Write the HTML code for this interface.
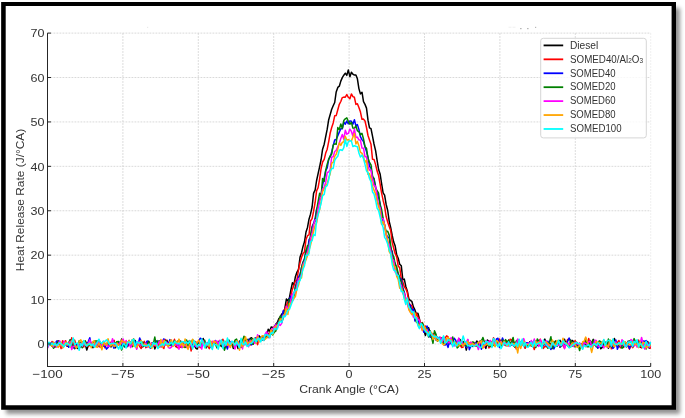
<!DOCTYPE html>
<html><head><meta charset="utf-8"><style>
html,body{margin:0;padding:0;background:#fff;width:685px;height:418px;overflow:hidden}
#w{width:685px;height:418px;filter:blur(0.25px)}
svg{display:block}
text{font-family:"Liberation Sans",sans-serif}
</style></head><body><div id="w">
<svg width="685" height="418" viewBox="0 0 685 418">
<defs><filter id="sh" x="-5%" y="-5%" width="115%" height="115%"><feGaussianBlur stdDeviation="2"/></filter>
<clipPath id="cp"><rect x="47.5" y="23.1" width="603.70" height="343.10"/></clipPath></defs>
<rect x="0" y="0" width="685" height="418" fill="#fff"/>
<rect x="6" y="8" width="674" height="406" fill="#000" opacity="0.43" filter="url(#sh)"/>
<rect x="3" y="4" width="670" height="403" fill="#fff"/>
<path d="M1.15,1.9 H676 V409.7 H1.15 Z M5.7,6 V405.3 H671.6 V6 Z" fill="#000" fill-rule="evenodd"/>
<g stroke="#cfcfcf" stroke-width="0.8" stroke-dasharray="1.8 1.2"><line x1="47.50" y1="343.99" x2="650.70" y2="343.99"/><line x1="47.50" y1="299.58" x2="650.70" y2="299.58"/><line x1="47.50" y1="255.17" x2="650.70" y2="255.17"/><line x1="47.50" y1="210.75" x2="650.70" y2="210.75"/><line x1="47.50" y1="166.34" x2="650.70" y2="166.34"/><line x1="47.50" y1="121.93" x2="650.70" y2="121.93"/><line x1="47.50" y1="77.51" x2="650.70" y2="77.51"/><line x1="47.50" y1="33.10" x2="650.70" y2="33.10"/><line x1="47.50" y1="33.10" x2="47.50" y2="366.20"/><line x1="122.90" y1="33.10" x2="122.90" y2="366.20"/><line x1="198.30" y1="33.10" x2="198.30" y2="366.20"/><line x1="273.70" y1="33.10" x2="273.70" y2="366.20"/><line x1="349.10" y1="33.10" x2="349.10" y2="366.20"/><line x1="424.50" y1="33.10" x2="424.50" y2="366.20"/><line x1="499.90" y1="33.10" x2="499.90" y2="366.20"/><line x1="575.30" y1="33.10" x2="575.30" y2="366.20"/><line x1="650.70" y1="33.10" x2="650.70" y2="366.20" opacity="0.45"/></g>
<g fill="#b8b8b8"><rect x="520" y="28" width="1.6" height="1.2"/><rect x="527" y="28" width="1.6" height="1.2"/><rect x="535" y="26.8" width="1.2" height="1.2"/><rect x="508.5" y="26.8" width="3" height="0.8" opacity="0.25"/><rect x="512.5" y="26.8" width="3" height="0.8" opacity="0.25"/><rect x="147" y="26.8" width="1.2" height="1.2" opacity="0.3"/></g>
<g clip-path="url(#cp)" fill="none" stroke-width="1.5" stroke-linejoin="round"><path d="M47.5,344.0 L49.0,343.3 L50.5,344.7 L52.0,346.2 L53.5,345.1 L55.1,346.4 L56.6,343.8 L58.1,340.7 L59.6,345.2 L61.1,345.5 L62.6,342.8 L64.1,343.1 L65.6,343.7 L67.2,346.3 L68.7,344.1 L70.2,342.3 L71.7,347.3 L73.2,345.1 L74.7,348.6 L76.2,347.1 L77.7,348.5 L79.2,344.6 L80.8,347.1 L82.3,343.3 L83.8,343.6 L85.3,344.4 L86.8,350.1 L88.3,345.3 L89.8,344.1 L91.3,343.7 L92.9,347.7 L94.4,345.2 L95.9,346.4 L97.4,346.0 L98.9,341.4 L100.4,346.0 L101.9,344.1 L103.4,341.8 L104.9,345.4 L106.5,344.3 L108.0,343.7 L109.5,343.8 L111.0,347.0 L112.5,343.8 L114.0,340.7 L115.5,347.8 L117.0,341.9 L118.6,343.7 L120.1,345.6 L121.6,339.1 L123.1,342.1 L124.6,346.9 L126.1,343.8 L127.6,342.6 L129.1,344.5 L130.6,342.3 L132.2,344.2 L133.7,342.4 L135.2,340.5 L136.7,345.6 L138.2,343.5 L139.7,345.1 L141.2,343.7 L142.7,346.9 L144.3,345.4 L145.8,344.5 L147.3,341.8 L148.8,341.2 L150.3,347.2 L151.8,345.9 L153.3,342.4 L154.8,348.9 L156.3,345.1 L157.9,344.2 L159.4,340.9 L160.9,342.3 L162.4,344.8 L163.9,344.9 L165.4,344.6 L166.9,340.3 L168.4,345.0 L170.0,344.7 L171.5,343.1 L173.0,344.3 L174.5,344.5 L176.0,346.7 L177.5,344.0 L179.0,345.1 L180.5,341.1 L182.0,342.4 L183.6,344.1 L185.1,342.4 L186.6,344.8 L188.1,341.4 L189.6,344.0 L191.1,342.6 L192.6,347.1 L194.1,343.1 L195.7,348.1 L197.2,349.0 L198.7,344.7 L200.2,346.2 L201.7,343.6 L203.2,338.5 L204.7,346.0 L206.2,345.5 L207.7,343.5 L209.3,342.8 L210.8,344.4 L212.3,344.5 L213.8,342.2 L215.3,342.7 L216.8,346.5 L218.3,344.1 L219.8,343.8 L221.4,346.5 L222.9,343.2 L224.4,345.9 L225.9,341.4 L227.4,343.3 L228.9,343.5 L230.4,345.1 L231.9,343.9 L233.4,348.4 L235.0,346.2 L236.5,342.5 L238.0,348.5 L239.5,341.1 L241.0,347.3 L242.5,341.0 L244.0,344.7 L245.5,340.5 L247.1,341.9 L248.6,345.6 L250.1,338.5 L251.6,337.7 L253.1,340.9 L254.6,340.9 L256.1,340.1 L257.6,341.5 L259.1,335.8 L260.7,339.0 L262.2,336.9 L263.7,337.8 L265.2,336.3 L266.7,336.7 L268.2,329.2 L269.7,331.2 L271.2,326.9 L272.8,327.5 L274.3,327.3 L275.8,324.3 L277.3,322.6 L278.8,318.8 L280.3,317.0 L281.8,313.9 L283.3,313.5 L284.8,308.7 L286.4,299.1 L287.9,300.9 L289.4,297.8 L290.9,290.0 L292.4,282.8 L293.9,284.9 L295.4,276.7 L296.9,272.3 L298.5,269.4 L300.0,257.3 L301.5,253.0 L303.0,246.4 L304.5,241.8 L306.0,232.0 L307.5,227.4 L309.0,219.2 L310.5,214.2 L312.1,207.0 L313.6,193.2 L315.1,190.1 L316.6,180.5 L318.1,173.6 L319.6,166.9 L321.1,159.5 L322.6,149.2 L324.2,144.2 L325.7,136.6 L327.2,129.2 L328.7,119.7 L330.2,114.5 L331.7,109.2 L333.2,105.8 L334.7,102.5 L336.2,91.9 L337.8,87.4 L339.3,86.2 L340.8,81.1 L342.3,77.6 L343.8,75.2 L345.3,73.2 L346.8,75.4 L348.3,70.0 L349.9,76.7 L351.4,72.2 L352.9,74.2 L354.4,75.1 L355.9,74.9 L357.4,78.8 L358.9,88.6 L360.4,93.9 L362.0,92.2 L363.5,101.6 L365.0,104.4 L366.5,108.1 L368.0,120.2 L369.5,127.8 L371.0,128.7 L372.5,136.1 L374.0,144.0 L375.6,150.7 L377.1,160.4 L378.6,169.5 L380.1,173.9 L381.6,183.5 L383.1,192.9 L384.6,195.2 L386.1,204.2 L387.7,210.5 L389.2,221.3 L390.7,227.7 L392.2,235.5 L393.7,242.1 L395.2,246.1 L396.7,254.9 L398.2,258.3 L399.7,264.2 L401.3,265.8 L402.8,279.6 L404.3,279.1 L405.8,286.4 L407.3,290.9 L408.8,298.7 L410.3,300.4 L411.8,301.3 L413.4,306.9 L414.9,309.9 L416.4,313.9 L417.9,313.3 L419.4,318.8 L420.9,326.6 L422.4,325.2 L423.9,330.4 L425.4,335.5 L427.0,330.6 L428.5,327.6 L430.0,332.2 L431.5,336.5 L433.0,337.1 L434.5,333.1 L436.0,336.4 L437.5,337.5 L439.1,338.6 L440.6,339.0 L442.1,337.8 L443.6,338.9 L445.1,340.2 L446.6,343.7 L448.1,340.3 L449.6,343.6 L451.1,339.5 L452.7,345.5 L454.2,343.0 L455.7,342.9 L457.2,346.2 L458.7,338.9 L460.2,339.7 L461.7,344.5 L463.2,341.6 L464.8,342.6 L466.3,350.0 L467.8,343.1 L469.3,343.9 L470.8,343.6 L472.3,346.4 L473.8,344.5 L475.3,344.3 L476.8,341.0 L478.4,343.1 L479.9,343.9 L481.4,340.2 L482.9,345.3 L484.4,344.9 L485.9,348.4 L487.4,340.1 L488.9,341.6 L490.5,341.7 L492.0,342.3 L493.5,343.7 L495.0,343.5 L496.5,344.6 L498.0,344.5 L499.5,343.9 L501.0,340.3 L502.5,342.6 L504.1,344.1 L505.6,345.4 L507.1,345.5 L508.6,340.1 L510.1,342.8 L511.6,343.8 L513.1,344.8 L514.6,346.7 L516.2,344.2 L517.7,341.9 L519.2,345.0 L520.7,344.5 L522.2,344.5 L523.7,343.7 L525.2,347.9 L526.7,344.6 L528.2,346.1 L529.8,341.8 L531.3,345.9 L532.8,342.6 L534.3,340.3 L535.8,344.8 L537.3,345.5 L538.8,343.5 L540.3,344.0 L541.9,346.4 L543.4,342.9 L544.9,339.1 L546.4,344.6 L547.9,344.5 L549.4,346.5 L550.9,343.2 L552.4,347.0 L553.9,346.7 L555.5,340.9 L557.0,346.2 L558.5,341.4 L560.0,340.3 L561.5,343.4 L563.0,342.6 L564.5,339.2 L566.0,344.5 L567.6,345.4 L569.1,347.3 L570.6,343.9 L572.1,340.4 L573.6,341.6 L575.1,346.3 L576.6,346.1 L578.1,345.2 L579.6,343.3 L581.2,344.5 L582.7,343.5 L584.2,343.3 L585.7,344.7 L587.2,344.1 L588.7,343.5 L590.2,344.2 L591.7,342.8 L593.3,339.4 L594.8,342.5 L596.3,343.9 L597.8,348.1 L599.3,343.0 L600.8,348.7 L602.3,347.4 L603.8,341.9 L605.3,342.3 L606.9,344.4 L608.4,348.2 L609.9,344.9 L611.4,345.7 L612.9,342.4 L614.4,338.5 L615.9,343.5 L617.4,345.9 L619.0,346.9 L620.5,344.1 L622.0,344.4 L623.5,346.8 L625.0,343.7 L626.5,346.8 L628.0,341.3 L629.5,341.4 L631.0,341.3 L632.6,345.2 L634.1,342.7 L635.6,344.3 L637.1,344.9 L638.6,344.8 L640.1,347.2 L641.6,347.5 L643.1,342.1 L644.7,344.5 L646.2,343.5 L647.7,341.5 L649.2,348.2 L650.7,345.9" stroke="#000000"/><path d="M47.5,343.6 L49.0,343.0 L50.5,344.9 L52.0,341.5 L53.5,343.5 L55.1,347.0 L56.6,346.3 L58.1,342.0 L59.6,342.9 L61.1,348.6 L62.6,340.7 L64.1,342.5 L65.6,340.7 L67.2,344.9 L68.7,344.7 L70.2,346.7 L71.7,337.8 L73.2,344.4 L74.7,340.1 L76.2,345.6 L77.7,343.6 L79.2,348.1 L80.8,344.9 L82.3,341.6 L83.8,347.1 L85.3,341.4 L86.8,343.2 L88.3,346.5 L89.8,345.2 L91.3,345.1 L92.9,344.1 L94.4,345.3 L95.9,346.0 L97.4,344.7 L98.9,346.5 L100.4,347.1 L101.9,344.1 L103.4,341.8 L104.9,347.7 L106.5,344.0 L108.0,345.6 L109.5,346.4 L111.0,341.9 L112.5,345.3 L114.0,340.3 L115.5,345.9 L117.0,343.0 L118.6,344.5 L120.1,345.8 L121.6,342.6 L123.1,344.4 L124.6,342.5 L126.1,344.1 L127.6,346.6 L129.1,344.2 L130.6,343.9 L132.2,341.7 L133.7,346.2 L135.2,344.1 L136.7,348.2 L138.2,342.4 L139.7,346.6 L141.2,348.4 L142.7,344.1 L144.3,341.3 L145.8,347.7 L147.3,346.7 L148.8,345.8 L150.3,346.8 L151.8,343.1 L153.3,346.0 L154.8,345.8 L156.3,342.6 L157.9,345.8 L159.4,342.9 L160.9,346.4 L162.4,347.0 L163.9,348.5 L165.4,339.4 L166.9,344.8 L168.4,343.4 L170.0,344.1 L171.5,343.6 L173.0,343.9 L174.5,339.3 L176.0,346.5 L177.5,347.8 L179.0,346.5 L180.5,347.3 L182.0,342.2 L183.6,342.0 L185.1,346.3 L186.6,347.4 L188.1,344.9 L189.6,340.6 L191.1,350.9 L192.6,342.7 L194.1,346.6 L195.7,341.4 L197.2,346.6 L198.7,344.7 L200.2,347.7 L201.7,346.4 L203.2,340.6 L204.7,342.0 L206.2,345.0 L207.7,346.1 L209.3,348.6 L210.8,344.9 L212.3,344.0 L213.8,344.2 L215.3,344.2 L216.8,346.7 L218.3,344.1 L219.8,344.0 L221.4,340.7 L222.9,339.3 L224.4,344.2 L225.9,345.7 L227.4,343.9 L228.9,345.2 L230.4,345.5 L231.9,343.8 L233.4,346.1 L235.0,342.0 L236.5,343.7 L238.0,342.7 L239.5,343.7 L241.0,344.9 L242.5,345.2 L244.0,343.3 L245.5,343.9 L247.1,341.7 L248.6,342.1 L250.1,345.1 L251.6,341.2 L253.1,344.3 L254.6,342.1 L256.1,340.8 L257.6,344.6 L259.1,338.6 L260.7,337.8 L262.2,337.8 L263.7,337.5 L265.2,336.4 L266.7,336.8 L268.2,333.9 L269.7,333.2 L271.2,330.2 L272.8,331.8 L274.3,326.5 L275.8,324.8 L277.3,323.4 L278.8,321.8 L280.3,316.9 L281.8,319.7 L283.3,311.6 L284.8,309.1 L286.4,305.6 L287.9,301.8 L289.4,300.6 L290.9,295.6 L292.4,289.2 L293.9,285.2 L295.4,281.0 L296.9,280.2 L298.5,269.9 L300.0,262.9 L301.5,257.6 L303.0,253.6 L304.5,251.9 L306.0,239.5 L307.5,235.7 L309.0,234.8 L310.5,221.0 L312.1,218.6 L313.6,211.2 L315.1,202.5 L316.6,190.8 L318.1,187.7 L319.6,179.1 L321.1,168.5 L322.6,162.0 L324.2,159.4 L325.7,153.1 L327.2,149.2 L328.7,141.6 L330.2,133.0 L331.7,127.5 L333.2,122.9 L334.7,115.8 L336.2,115.6 L337.8,109.8 L339.3,104.3 L340.8,101.5 L342.3,97.6 L343.8,97.1 L345.3,97.2 L346.8,94.5 L348.3,97.3 L349.9,98.8 L351.4,93.9 L352.9,96.6 L354.4,97.3 L355.9,104.4 L357.4,103.8 L358.9,107.5 L360.4,111.8 L362.0,119.3 L363.5,119.1 L365.0,121.0 L366.5,127.5 L368.0,135.5 L369.5,140.0 L371.0,144.3 L372.5,159.3 L374.0,159.4 L375.6,164.6 L377.1,171.1 L378.6,175.6 L380.1,184.1 L381.6,193.1 L383.1,200.2 L384.6,206.1 L386.1,216.3 L387.7,222.0 L389.2,226.4 L390.7,230.5 L392.2,242.2 L393.7,248.2 L395.2,253.7 L396.7,256.8 L398.2,265.9 L399.7,267.7 L401.3,278.8 L402.8,281.9 L404.3,286.7 L405.8,288.8 L407.3,292.4 L408.8,302.7 L410.3,305.0 L411.8,305.5 L413.4,311.3 L414.9,316.5 L416.4,313.1 L417.9,317.1 L419.4,319.5 L420.9,324.2 L422.4,322.6 L423.9,327.6 L425.4,326.1 L427.0,332.6 L428.5,334.0 L430.0,332.7 L431.5,336.1 L433.0,333.9 L434.5,335.9 L436.0,339.6 L437.5,338.0 L439.1,339.7 L440.6,337.3 L442.1,341.6 L443.6,341.6 L445.1,338.0 L446.6,335.9 L448.1,336.9 L449.6,341.9 L451.1,341.8 L452.7,338.8 L454.2,343.1 L455.7,345.3 L457.2,342.8 L458.7,342.1 L460.2,345.4 L461.7,347.5 L463.2,347.0 L464.8,342.0 L466.3,345.5 L467.8,344.1 L469.3,343.2 L470.8,342.3 L472.3,344.6 L473.8,342.6 L475.3,346.0 L476.8,344.8 L478.4,346.4 L479.9,341.2 L481.4,344.0 L482.9,345.8 L484.4,344.8 L485.9,344.5 L487.4,342.3 L488.9,347.9 L490.5,346.5 L492.0,344.9 L493.5,337.8 L495.0,341.6 L496.5,344.3 L498.0,342.2 L499.5,339.0 L501.0,344.6 L502.5,344.9 L504.1,341.0 L505.6,342.8 L507.1,342.4 L508.6,345.2 L510.1,339.3 L511.6,339.8 L513.1,342.6 L514.6,342.3 L516.2,348.9 L517.7,342.4 L519.2,344.5 L520.7,342.9 L522.2,342.3 L523.7,344.8 L525.2,348.1 L526.7,343.1 L528.2,345.8 L529.8,344.8 L531.3,345.5 L532.8,344.8 L534.3,349.6 L535.8,341.0 L537.3,343.4 L538.8,341.3 L540.3,339.2 L541.9,343.9 L543.4,348.4 L544.9,346.2 L546.4,346.9 L547.9,345.2 L549.4,343.8 L550.9,348.9 L552.4,343.2 L553.9,347.7 L555.5,343.3 L557.0,344.3 L558.5,344.8 L560.0,344.2 L561.5,345.3 L563.0,345.5 L564.5,348.1 L566.0,344.1 L567.6,339.5 L569.1,339.2 L570.6,340.8 L572.1,342.3 L573.6,345.6 L575.1,340.5 L576.6,344.1 L578.1,344.2 L579.6,344.7 L581.2,343.8 L582.7,345.1 L584.2,344.2 L585.7,346.6 L587.2,344.9 L588.7,338.4 L590.2,344.2 L591.7,344.6 L593.3,342.7 L594.8,342.3 L596.3,346.7 L597.8,344.5 L599.3,341.8 L600.8,343.3 L602.3,343.7 L603.8,340.2 L605.3,345.6 L606.9,343.8 L608.4,345.3 L609.9,340.4 L611.4,348.8 L612.9,345.6 L614.4,345.3 L615.9,342.4 L617.4,342.5 L619.0,340.6 L620.5,347.8 L622.0,342.2 L623.5,344.7 L625.0,345.6 L626.5,342.7 L628.0,346.2 L629.5,349.1 L631.0,344.9 L632.6,347.7 L634.1,345.6 L635.6,343.1 L637.1,343.2 L638.6,340.1 L640.1,344.5 L641.6,347.7 L643.1,345.8 L644.7,346.2 L646.2,347.0 L647.7,342.9 L649.2,345.6 L650.7,348.8" stroke="#ff0000"/><path d="M47.5,342.3 L49.0,344.3 L50.5,343.1 L52.0,343.7 L53.5,342.5 L55.1,343.9 L56.6,341.0 L58.1,343.0 L59.6,343.0 L61.1,343.0 L62.6,347.6 L64.1,344.4 L65.6,344.6 L67.2,343.5 L68.7,347.3 L70.2,340.0 L71.7,343.7 L73.2,347.0 L74.7,348.2 L76.2,344.7 L77.7,344.2 L79.2,345.7 L80.8,343.8 L82.3,345.6 L83.8,342.6 L85.3,345.8 L86.8,344.1 L88.3,341.6 L89.8,337.7 L91.3,346.5 L92.9,345.1 L94.4,346.0 L95.9,342.1 L97.4,346.8 L98.9,345.2 L100.4,344.1 L101.9,346.4 L103.4,346.3 L104.9,345.2 L106.5,349.1 L108.0,347.5 L109.5,345.0 L111.0,343.6 L112.5,344.4 L114.0,348.3 L115.5,345.1 L117.0,342.0 L118.6,342.6 L120.1,344.2 L121.6,346.2 L123.1,342.5 L124.6,345.4 L126.1,346.8 L127.6,346.0 L129.1,340.5 L130.6,343.5 L132.2,341.2 L133.7,345.2 L135.2,341.7 L136.7,345.5 L138.2,344.4 L139.7,337.9 L141.2,342.1 L142.7,345.2 L144.3,344.2 L145.8,343.2 L147.3,341.0 L148.8,345.2 L150.3,348.2 L151.8,344.7 L153.3,344.0 L154.8,343.7 L156.3,340.8 L157.9,343.2 L159.4,342.0 L160.9,346.7 L162.4,341.9 L163.9,338.9 L165.4,342.1 L166.9,343.4 L168.4,343.6 L170.0,339.6 L171.5,346.3 L173.0,344.3 L174.5,342.9 L176.0,342.2 L177.5,345.1 L179.0,343.2 L180.5,344.7 L182.0,343.7 L183.6,344.3 L185.1,346.8 L186.6,344.0 L188.1,341.8 L189.6,346.4 L191.1,344.6 L192.6,342.4 L194.1,346.6 L195.7,343.5 L197.2,346.6 L198.7,341.2 L200.2,338.3 L201.7,339.0 L203.2,344.5 L204.7,342.2 L206.2,343.7 L207.7,343.7 L209.3,340.2 L210.8,347.2 L212.3,341.4 L213.8,344.1 L215.3,340.5 L216.8,343.5 L218.3,345.6 L219.8,343.2 L221.4,342.1 L222.9,343.8 L224.4,342.7 L225.9,345.1 L227.4,349.0 L228.9,341.6 L230.4,342.0 L231.9,343.3 L233.4,343.5 L235.0,341.0 L236.5,344.6 L238.0,345.1 L239.5,343.8 L241.0,340.3 L242.5,346.4 L244.0,340.0 L245.5,344.3 L247.1,345.2 L248.6,339.2 L250.1,342.2 L251.6,344.9 L253.1,342.2 L254.6,338.7 L256.1,337.6 L257.6,341.0 L259.1,338.4 L260.7,337.0 L262.2,339.7 L263.7,336.4 L265.2,336.5 L266.7,336.8 L268.2,335.6 L269.7,333.0 L271.2,331.8 L272.8,331.8 L274.3,329.9 L275.8,324.4 L277.3,324.8 L278.8,321.1 L280.3,318.1 L281.8,317.2 L283.3,310.6 L284.8,315.4 L286.4,308.4 L287.9,308.0 L289.4,299.3 L290.9,296.1 L292.4,301.3 L293.9,294.8 L295.4,286.6 L296.9,281.8 L298.5,277.3 L300.0,274.4 L301.5,268.0 L303.0,262.3 L304.5,258.6 L306.0,250.3 L307.5,252.6 L309.0,239.6 L310.5,237.6 L312.1,226.6 L313.6,223.3 L315.1,218.6 L316.6,209.2 L318.1,206.0 L319.6,199.7 L321.1,195.1 L322.6,185.2 L324.2,177.9 L325.7,170.7 L327.2,167.8 L328.7,159.4 L330.2,156.7 L331.7,151.9 L333.2,145.6 L334.7,140.0 L336.2,139.5 L337.8,135.6 L339.3,132.1 L340.8,128.7 L342.3,128.8 L343.8,122.1 L345.3,124.2 L346.8,121.1 L348.3,123.8 L349.9,120.9 L351.4,121.3 L352.9,124.2 L354.4,119.7 L355.9,125.7 L357.4,124.6 L358.9,129.4 L360.4,136.6 L362.0,139.6 L363.5,141.6 L365.0,146.9 L366.5,151.6 L368.0,157.4 L369.5,166.4 L371.0,168.0 L372.5,178.6 L374.0,178.2 L375.6,186.9 L377.1,193.0 L378.6,198.1 L380.1,203.1 L381.6,213.6 L383.1,220.7 L384.6,225.3 L386.1,233.9 L387.7,237.4 L389.2,237.2 L390.7,249.6 L392.2,251.2 L393.7,261.8 L395.2,263.2 L396.7,269.9 L398.2,274.4 L399.7,277.7 L401.3,279.5 L402.8,287.7 L404.3,292.2 L405.8,298.9 L407.3,298.9 L408.8,304.5 L410.3,305.2 L411.8,310.5 L413.4,309.1 L414.9,321.0 L416.4,319.4 L417.9,318.9 L419.4,324.1 L420.9,327.2 L422.4,327.8 L423.9,332.3 L425.4,330.2 L427.0,325.9 L428.5,330.4 L430.0,337.1 L431.5,337.6 L433.0,337.4 L434.5,334.8 L436.0,340.1 L437.5,340.5 L439.1,337.3 L440.6,337.9 L442.1,341.4 L443.6,343.7 L445.1,345.1 L446.6,343.4 L448.1,347.4 L449.6,340.4 L451.1,344.0 L452.7,341.5 L454.2,338.3 L455.7,340.2 L457.2,346.0 L458.7,341.2 L460.2,340.6 L461.7,345.3 L463.2,345.9 L464.8,343.9 L466.3,347.6 L467.8,340.1 L469.3,349.7 L470.8,346.5 L472.3,344.5 L473.8,344.4 L475.3,343.5 L476.8,343.2 L478.4,344.4 L479.9,341.2 L481.4,349.2 L482.9,344.0 L484.4,345.7 L485.9,343.6 L487.4,343.4 L488.9,346.2 L490.5,345.5 L492.0,342.0 L493.5,343.1 L495.0,345.6 L496.5,339.0 L498.0,338.3 L499.5,347.6 L501.0,343.3 L502.5,337.9 L504.1,342.1 L505.6,343.5 L507.1,344.5 L508.6,345.3 L510.1,344.5 L511.6,345.3 L513.1,342.2 L514.6,345.0 L516.2,345.1 L517.7,346.9 L519.2,344.1 L520.7,346.2 L522.2,344.4 L523.7,341.4 L525.2,343.1 L526.7,342.8 L528.2,343.1 L529.8,343.8 L531.3,344.3 L532.8,344.7 L534.3,342.1 L535.8,346.6 L537.3,340.7 L538.8,343.9 L540.3,345.8 L541.9,345.2 L543.4,345.6 L544.9,343.6 L546.4,345.7 L547.9,341.2 L549.4,345.9 L550.9,349.5 L552.4,345.8 L553.9,348.9 L555.5,344.1 L557.0,341.4 L558.5,342.4 L560.0,347.3 L561.5,345.9 L563.0,339.6 L564.5,343.2 L566.0,344.0 L567.6,341.4 L569.1,338.0 L570.6,340.8 L572.1,343.7 L573.6,343.1 L575.1,342.5 L576.6,345.5 L578.1,346.6 L579.6,343.9 L581.2,346.3 L582.7,344.1 L584.2,343.8 L585.7,338.3 L587.2,346.1 L588.7,344.3 L590.2,344.4 L591.7,342.9 L593.3,341.4 L594.8,345.2 L596.3,346.0 L597.8,348.0 L599.3,346.3 L600.8,342.7 L602.3,343.9 L603.8,346.5 L605.3,344.9 L606.9,343.9 L608.4,342.8 L609.9,345.4 L611.4,344.6 L612.9,348.4 L614.4,346.8 L615.9,340.0 L617.4,349.3 L619.0,344.8 L620.5,343.5 L622.0,344.9 L623.5,346.0 L625.0,344.1 L626.5,344.0 L628.0,344.2 L629.5,348.6 L631.0,344.4 L632.6,346.1 L634.1,345.3 L635.6,343.4 L637.1,342.4 L638.6,341.8 L640.1,345.2 L641.6,341.7 L643.1,341.1 L644.7,341.2 L646.2,340.6 L647.7,344.3 L649.2,344.4 L650.7,342.0" stroke="#0000ff"/><path d="M47.5,347.3 L49.0,343.5 L50.5,345.3 L52.0,344.9 L53.5,348.2 L55.1,346.2 L56.6,344.0 L58.1,341.8 L59.6,341.6 L61.1,344.2 L62.6,344.5 L64.1,346.0 L65.6,343.0 L67.2,344.6 L68.7,342.5 L70.2,339.7 L71.7,344.1 L73.2,347.7 L74.7,346.1 L76.2,347.6 L77.7,346.9 L79.2,340.8 L80.8,343.4 L82.3,347.7 L83.8,342.4 L85.3,340.9 L86.8,344.9 L88.3,345.6 L89.8,344.8 L91.3,343.3 L92.9,342.4 L94.4,341.1 L95.9,341.0 L97.4,341.1 L98.9,340.7 L100.4,342.4 L101.9,347.7 L103.4,344.3 L104.9,343.2 L106.5,344.9 L108.0,341.8 L109.5,344.9 L111.0,346.3 L112.5,340.5 L114.0,342.4 L115.5,343.5 L117.0,341.7 L118.6,341.4 L120.1,343.2 L121.6,350.0 L123.1,345.6 L124.6,345.1 L126.1,346.4 L127.6,343.5 L129.1,341.1 L130.6,345.2 L132.2,346.8 L133.7,339.0 L135.2,345.1 L136.7,347.0 L138.2,343.4 L139.7,343.0 L141.2,345.7 L142.7,342.1 L144.3,345.2 L145.8,346.2 L147.3,343.6 L148.8,342.1 L150.3,345.5 L151.8,343.2 L153.3,344.2 L154.8,337.1 L156.3,345.7 L157.9,340.6 L159.4,344.1 L160.9,344.3 L162.4,342.2 L163.9,341.8 L165.4,340.9 L166.9,343.2 L168.4,345.5 L170.0,345.3 L171.5,342.7 L173.0,342.6 L174.5,340.6 L176.0,343.0 L177.5,341.4 L179.0,340.3 L180.5,343.6 L182.0,347.6 L183.6,346.9 L185.1,347.5 L186.6,340.1 L188.1,346.1 L189.6,341.0 L191.1,342.6 L192.6,339.8 L194.1,341.5 L195.7,344.2 L197.2,344.5 L198.7,343.8 L200.2,343.6 L201.7,345.3 L203.2,344.1 L204.7,340.1 L206.2,348.1 L207.7,343.3 L209.3,346.2 L210.8,343.5 L212.3,341.9 L213.8,344.1 L215.3,342.1 L216.8,347.8 L218.3,341.2 L219.8,345.4 L221.4,342.4 L222.9,343.4 L224.4,350.2 L225.9,345.7 L227.4,343.3 L228.9,340.0 L230.4,343.0 L231.9,343.1 L233.4,347.1 L235.0,340.1 L236.5,339.1 L238.0,343.3 L239.5,343.8 L241.0,347.1 L242.5,340.9 L244.0,336.3 L245.5,340.9 L247.1,339.4 L248.6,340.9 L250.1,344.4 L251.6,338.4 L253.1,344.3 L254.6,341.4 L256.1,339.8 L257.6,337.8 L259.1,338.4 L260.7,337.8 L262.2,339.9 L263.7,340.4 L265.2,336.3 L266.7,337.2 L268.2,337.6 L269.7,336.3 L271.2,333.1 L272.8,334.9 L274.3,332.1 L275.8,331.1 L277.3,324.8 L278.8,322.2 L280.3,316.1 L281.8,322.3 L283.3,317.7 L284.8,311.1 L286.4,310.9 L287.9,308.0 L289.4,299.6 L290.9,301.0 L292.4,299.2 L293.9,295.6 L295.4,287.3 L296.9,282.9 L298.5,282.3 L300.0,276.5 L301.5,267.7 L303.0,262.3 L304.5,259.8 L306.0,251.1 L307.5,245.4 L309.0,245.2 L310.5,235.6 L312.1,227.7 L313.6,223.8 L315.1,221.4 L316.6,210.5 L318.1,201.7 L319.6,193.3 L321.1,196.3 L322.6,178.4 L324.2,181.5 L325.7,170.5 L327.2,164.1 L328.7,159.2 L330.2,155.9 L331.7,154.1 L333.2,145.0 L334.7,143.9 L336.2,144.3 L337.8,127.6 L339.3,129.5 L340.8,124.0 L342.3,128.3 L343.8,120.6 L345.3,118.8 L346.8,117.9 L348.3,121.3 L349.9,124.2 L351.4,122.2 L352.9,128.1 L354.4,128.3 L355.9,125.8 L357.4,130.9 L358.9,131.7 L360.4,134.8 L362.0,133.4 L363.5,139.0 L365.0,146.7 L366.5,148.3 L368.0,158.2 L369.5,162.4 L371.0,164.9 L372.5,175.8 L374.0,179.4 L375.6,188.0 L377.1,190.7 L378.6,193.2 L380.1,205.3 L381.6,209.3 L383.1,218.3 L384.6,225.2 L386.1,231.7 L387.7,231.3 L389.2,235.1 L390.7,245.6 L392.2,254.4 L393.7,256.5 L395.2,264.5 L396.7,267.0 L398.2,273.4 L399.7,278.3 L401.3,282.2 L402.8,289.5 L404.3,293.3 L405.8,300.6 L407.3,301.3 L408.8,307.2 L410.3,307.5 L411.8,312.7 L413.4,313.0 L414.9,314.9 L416.4,322.1 L417.9,323.0 L419.4,325.5 L420.9,323.4 L422.4,323.0 L423.9,326.8 L425.4,331.3 L427.0,328.3 L428.5,336.9 L430.0,330.7 L431.5,337.0 L433.0,343.2 L434.5,330.8 L436.0,334.2 L437.5,341.3 L439.1,339.0 L440.6,340.5 L442.1,340.2 L443.6,344.6 L445.1,343.0 L446.6,340.5 L448.1,341.4 L449.6,339.3 L451.1,342.3 L452.7,337.0 L454.2,344.6 L455.7,342.4 L457.2,347.9 L458.7,346.4 L460.2,340.2 L461.7,345.8 L463.2,342.3 L464.8,343.8 L466.3,346.2 L467.8,344.6 L469.3,345.0 L470.8,345.0 L472.3,342.0 L473.8,342.3 L475.3,345.3 L476.8,346.1 L478.4,343.2 L479.9,344.2 L481.4,341.4 L482.9,337.5 L484.4,341.9 L485.9,344.1 L487.4,344.4 L488.9,346.1 L490.5,346.2 L492.0,346.4 L493.5,344.9 L495.0,345.0 L496.5,342.2 L498.0,345.0 L499.5,344.5 L501.0,347.0 L502.5,340.0 L504.1,342.8 L505.6,339.6 L507.1,342.0 L508.6,340.4 L510.1,344.6 L511.6,342.2 L513.1,337.4 L514.6,347.0 L516.2,341.1 L517.7,339.8 L519.2,343.0 L520.7,342.1 L522.2,340.9 L523.7,345.6 L525.2,343.0 L526.7,346.2 L528.2,345.7 L529.8,345.5 L531.3,344.4 L532.8,343.6 L534.3,342.9 L535.8,347.5 L537.3,339.0 L538.8,341.1 L540.3,342.2 L541.9,344.9 L543.4,344.2 L544.9,342.6 L546.4,343.0 L547.9,348.2 L549.4,342.1 L550.9,336.7 L552.4,348.6 L553.9,341.5 L555.5,343.1 L557.0,344.3 L558.5,340.6 L560.0,347.0 L561.5,343.6 L563.0,340.3 L564.5,344.5 L566.0,345.0 L567.6,343.7 L569.1,345.1 L570.6,340.1 L572.1,346.3 L573.6,341.8 L575.1,347.1 L576.6,342.3 L578.1,344.3 L579.6,350.5 L581.2,344.0 L582.7,346.7 L584.2,345.1 L585.7,340.1 L587.2,346.8 L588.7,346.7 L590.2,340.4 L591.7,343.7 L593.3,340.1 L594.8,343.2 L596.3,346.2 L597.8,344.2 L599.3,340.9 L600.8,341.6 L602.3,344.0 L603.8,343.9 L605.3,344.3 L606.9,345.4 L608.4,339.1 L609.9,344.0 L611.4,346.8 L612.9,345.2 L614.4,342.2 L615.9,342.4 L617.4,344.3 L619.0,345.7 L620.5,343.9 L622.0,348.2 L623.5,347.3 L625.0,342.0 L626.5,345.2 L628.0,343.1 L629.5,340.9 L631.0,342.4 L632.6,343.9 L634.1,338.6 L635.6,342.3 L637.1,344.9 L638.6,342.2 L640.1,343.0 L641.6,346.1 L643.1,343.8 L644.7,344.4 L646.2,348.9 L647.7,344.4 L649.2,344.7 L650.7,345.1" stroke="#008000"/><path d="M47.5,348.1 L49.0,344.9 L50.5,344.1 L52.0,343.7 L53.5,346.8 L55.1,342.4 L56.6,347.0 L58.1,344.6 L59.6,340.7 L61.1,345.7 L62.6,345.3 L64.1,341.3 L65.6,345.0 L67.2,344.7 L68.7,343.4 L70.2,341.4 L71.7,349.5 L73.2,346.1 L74.7,346.5 L76.2,346.7 L77.7,346.1 L79.2,346.1 L80.8,343.2 L82.3,346.2 L83.8,343.7 L85.3,343.0 L86.8,345.8 L88.3,343.7 L89.8,339.9 L91.3,343.2 L92.9,345.6 L94.4,344.2 L95.9,346.3 L97.4,343.3 L98.9,341.8 L100.4,346.0 L101.9,344.5 L103.4,341.2 L104.9,345.2 L106.5,343.5 L108.0,346.5 L109.5,346.0 L111.0,345.3 L112.5,338.7 L114.0,345.0 L115.5,345.3 L117.0,345.4 L118.6,344.4 L120.1,342.4 L121.6,343.5 L123.1,339.0 L124.6,343.5 L126.1,340.5 L127.6,343.3 L129.1,342.5 L130.6,347.5 L132.2,344.3 L133.7,344.2 L135.2,344.6 L136.7,349.3 L138.2,341.8 L139.7,344.9 L141.2,345.1 L142.7,344.6 L144.3,344.6 L145.8,343.0 L147.3,347.1 L148.8,346.3 L150.3,343.3 L151.8,343.6 L153.3,344.9 L154.8,345.4 L156.3,346.0 L157.9,344.1 L159.4,341.1 L160.9,346.6 L162.4,340.3 L163.9,341.9 L165.4,345.1 L166.9,342.1 L168.4,347.6 L170.0,348.2 L171.5,347.1 L173.0,345.0 L174.5,344.8 L176.0,345.3 L177.5,343.8 L179.0,349.2 L180.5,342.8 L182.0,347.5 L183.6,345.6 L185.1,345.0 L186.6,346.8 L188.1,347.3 L189.6,346.4 L191.1,344.0 L192.6,342.6 L194.1,342.6 L195.7,346.4 L197.2,345.9 L198.7,346.2 L200.2,342.9 L201.7,349.0 L203.2,341.0 L204.7,345.2 L206.2,345.9 L207.7,343.1 L209.3,341.5 L210.8,343.1 L212.3,341.4 L213.8,343.6 L215.3,341.0 L216.8,340.9 L218.3,344.2 L219.8,340.4 L221.4,343.5 L222.9,343.7 L224.4,346.1 L225.9,344.6 L227.4,341.9 L228.9,347.0 L230.4,342.2 L231.9,342.8 L233.4,343.0 L235.0,349.0 L236.5,343.8 L238.0,341.8 L239.5,345.2 L241.0,343.0 L242.5,348.9 L244.0,341.3 L245.5,344.4 L247.1,340.4 L248.6,346.8 L250.1,340.4 L251.6,342.4 L253.1,339.5 L254.6,343.3 L256.1,342.1 L257.6,334.7 L259.1,341.6 L260.7,340.7 L262.2,339.0 L263.7,340.1 L265.2,333.8 L266.7,331.6 L268.2,336.5 L269.7,337.8 L271.2,329.5 L272.8,328.3 L274.3,327.5 L275.8,325.0 L277.3,328.2 L278.8,324.5 L280.3,325.4 L281.8,323.2 L283.3,314.9 L284.8,316.2 L286.4,306.2 L287.9,308.5 L289.4,307.1 L290.9,300.1 L292.4,294.0 L293.9,293.4 L295.4,293.5 L296.9,285.3 L298.5,278.4 L300.0,278.3 L301.5,274.1 L303.0,264.7 L304.5,261.6 L306.0,259.2 L307.5,251.9 L309.0,247.1 L310.5,238.8 L312.1,233.3 L313.6,224.8 L315.1,219.9 L316.6,219.4 L318.1,208.5 L319.6,201.3 L321.1,196.4 L322.6,189.1 L324.2,187.1 L325.7,182.4 L327.2,172.4 L328.7,172.0 L330.2,169.6 L331.7,157.0 L333.2,156.8 L334.7,151.5 L336.2,150.4 L337.8,146.7 L339.3,143.2 L340.8,138.5 L342.3,134.5 L343.8,139.2 L345.3,130.3 L346.8,134.1 L348.3,133.4 L349.9,129.1 L351.4,131.4 L352.9,135.9 L354.4,129.0 L355.9,137.5 L357.4,137.1 L358.9,139.9 L360.4,140.0 L362.0,148.1 L363.5,148.3 L365.0,156.8 L366.5,156.8 L368.0,166.2 L369.5,170.2 L371.0,170.0 L372.5,179.3 L374.0,185.5 L375.6,186.1 L377.1,196.6 L378.6,205.4 L380.1,207.7 L381.6,218.4 L383.1,218.8 L384.6,224.7 L386.1,235.0 L387.7,241.0 L389.2,244.9 L390.7,250.9 L392.2,258.9 L393.7,260.5 L395.2,272.1 L396.7,273.2 L398.2,278.0 L399.7,282.4 L401.3,285.5 L402.8,293.5 L404.3,293.1 L405.8,298.8 L407.3,303.6 L408.8,308.8 L410.3,311.6 L411.8,310.9 L413.4,317.0 L414.9,317.1 L416.4,317.1 L417.9,319.5 L419.4,320.3 L420.9,326.8 L422.4,330.5 L423.9,327.0 L425.4,330.2 L427.0,329.6 L428.5,333.6 L430.0,331.8 L431.5,333.7 L433.0,335.0 L434.5,336.3 L436.0,337.4 L437.5,338.4 L439.1,339.1 L440.6,337.7 L442.1,341.9 L443.6,336.8 L445.1,341.7 L446.6,339.4 L448.1,342.3 L449.6,342.9 L451.1,337.6 L452.7,343.5 L454.2,346.0 L455.7,344.8 L457.2,344.0 L458.7,338.1 L460.2,342.9 L461.7,341.2 L463.2,346.0 L464.8,342.8 L466.3,342.1 L467.8,339.3 L469.3,345.5 L470.8,342.3 L472.3,343.1 L473.8,346.4 L475.3,343.9 L476.8,344.6 L478.4,349.6 L479.9,342.5 L481.4,342.6 L482.9,345.0 L484.4,347.2 L485.9,340.4 L487.4,343.3 L488.9,341.5 L490.5,340.5 L492.0,345.3 L493.5,342.0 L495.0,344.6 L496.5,344.1 L498.0,344.2 L499.5,344.0 L501.0,341.3 L502.5,343.7 L504.1,344.4 L505.6,344.7 L507.1,343.2 L508.6,346.2 L510.1,345.2 L511.6,344.1 L513.1,345.4 L514.6,344.3 L516.2,345.5 L517.7,339.1 L519.2,340.7 L520.7,342.9 L522.2,344.1 L523.7,338.6 L525.2,343.2 L526.7,344.2 L528.2,343.3 L529.8,343.2 L531.3,340.5 L532.8,344.0 L534.3,338.9 L535.8,346.1 L537.3,342.3 L538.8,346.4 L540.3,339.6 L541.9,344.8 L543.4,344.1 L544.9,341.7 L546.4,340.9 L547.9,346.7 L549.4,344.8 L550.9,347.4 L552.4,343.7 L553.9,344.2 L555.5,344.8 L557.0,345.7 L558.5,344.9 L560.0,345.8 L561.5,342.7 L563.0,340.3 L564.5,348.7 L566.0,344.3 L567.6,345.0 L569.1,342.8 L570.6,346.3 L572.1,344.4 L573.6,346.5 L575.1,342.3 L576.6,343.8 L578.1,344.4 L579.6,343.1 L581.2,344.6 L582.7,347.8 L584.2,342.5 L585.7,343.3 L587.2,344.4 L588.7,341.6 L590.2,341.0 L591.7,346.7 L593.3,345.9 L594.8,340.2 L596.3,340.5 L597.8,345.8 L599.3,346.9 L600.8,345.6 L602.3,345.2 L603.8,347.9 L605.3,343.9 L606.9,347.1 L608.4,346.9 L609.9,341.8 L611.4,345.7 L612.9,344.2 L614.4,342.5 L615.9,342.0 L617.4,344.8 L619.0,343.9 L620.5,346.0 L622.0,339.7 L623.5,342.4 L625.0,346.7 L626.5,344.0 L628.0,342.3 L629.5,342.8 L631.0,339.5 L632.6,340.6 L634.1,345.3 L635.6,344.2 L637.1,347.1 L638.6,343.4 L640.1,343.6 L641.6,337.4 L643.1,343.8 L644.7,349.1 L646.2,345.6 L647.7,343.7 L649.2,347.1 L650.7,346.1" stroke="#ff00ff"/><path d="M47.5,344.9 L49.0,343.2 L50.5,344.4 L52.0,346.2 L53.5,342.1 L55.1,345.3 L56.6,345.2 L58.1,347.4 L59.6,345.9 L61.1,342.4 L62.6,347.9 L64.1,344.2 L65.6,342.2 L67.2,344.9 L68.7,343.4 L70.2,346.7 L71.7,340.8 L73.2,341.3 L74.7,343.4 L76.2,348.3 L77.7,346.5 L79.2,341.6 L80.8,339.8 L82.3,343.3 L83.8,340.9 L85.3,345.5 L86.8,344.5 L88.3,344.0 L89.8,343.0 L91.3,347.7 L92.9,341.7 L94.4,340.8 L95.9,346.8 L97.4,347.3 L98.9,343.1 L100.4,345.6 L101.9,349.8 L103.4,342.0 L104.9,343.6 L106.5,345.2 L108.0,338.8 L109.5,343.7 L111.0,345.8 L112.5,343.7 L114.0,346.5 L115.5,345.9 L117.0,343.0 L118.6,345.3 L120.1,345.1 L121.6,339.9 L123.1,341.9 L124.6,342.0 L126.1,342.7 L127.6,342.8 L129.1,340.4 L130.6,344.0 L132.2,339.5 L133.7,346.3 L135.2,344.6 L136.7,347.4 L138.2,344.8 L139.7,342.7 L141.2,340.4 L142.7,345.6 L144.3,344.0 L145.8,344.9 L147.3,345.8 L148.8,346.9 L150.3,343.8 L151.8,348.2 L153.3,343.7 L154.8,343.9 L156.3,345.6 L157.9,346.5 L159.4,347.4 L160.9,339.4 L162.4,347.3 L163.9,340.2 L165.4,342.5 L166.9,344.9 L168.4,346.8 L170.0,341.4 L171.5,339.8 L173.0,346.3 L174.5,344.7 L176.0,341.4 L177.5,343.2 L179.0,339.1 L180.5,345.4 L182.0,342.7 L183.6,347.0 L185.1,338.9 L186.6,345.8 L188.1,349.4 L189.6,344.3 L191.1,344.3 L192.6,339.3 L194.1,344.8 L195.7,344.0 L197.2,342.5 L198.7,340.1 L200.2,344.1 L201.7,341.4 L203.2,342.7 L204.7,344.7 L206.2,343.8 L207.7,343.9 L209.3,346.2 L210.8,341.0 L212.3,347.4 L213.8,341.1 L215.3,341.6 L216.8,344.2 L218.3,345.8 L219.8,344.5 L221.4,342.8 L222.9,342.1 L224.4,343.2 L225.9,341.4 L227.4,345.2 L228.9,343.2 L230.4,347.6 L231.9,341.8 L233.4,343.3 L235.0,344.6 L236.5,340.7 L238.0,341.8 L239.5,350.2 L241.0,343.1 L242.5,346.7 L244.0,340.4 L245.5,336.7 L247.1,343.9 L248.6,342.2 L250.1,342.7 L251.6,341.0 L253.1,339.9 L254.6,338.0 L256.1,343.1 L257.6,336.4 L259.1,342.0 L260.7,338.5 L262.2,335.7 L263.7,336.0 L265.2,339.2 L266.7,337.8 L268.2,336.2 L269.7,334.1 L271.2,329.9 L272.8,334.5 L274.3,328.8 L275.8,326.8 L277.3,325.2 L278.8,323.6 L280.3,318.9 L281.8,319.2 L283.3,315.9 L284.8,314.1 L286.4,308.3 L287.9,314.4 L289.4,303.5 L290.9,303.9 L292.4,300.4 L293.9,298.4 L295.4,296.6 L296.9,288.8 L298.5,285.3 L300.0,277.8 L301.5,277.9 L303.0,265.9 L304.5,263.7 L306.0,259.7 L307.5,255.4 L309.0,250.1 L310.5,245.3 L312.1,238.2 L313.6,231.0 L315.1,225.6 L316.6,222.8 L318.1,214.1 L319.6,209.8 L321.1,201.4 L322.6,191.5 L324.2,188.9 L325.7,185.7 L327.2,183.6 L328.7,178.0 L330.2,173.7 L331.7,163.2 L333.2,162.4 L334.7,156.4 L336.2,154.3 L337.8,149.2 L339.3,142.9 L340.8,145.4 L342.3,142.4 L343.8,141.7 L345.3,136.3 L346.8,140.0 L348.3,139.8 L349.9,140.4 L351.4,140.9 L352.9,137.3 L354.4,133.5 L355.9,144.0 L357.4,141.4 L358.9,145.8 L360.4,152.1 L362.0,153.4 L363.5,157.1 L365.0,162.3 L366.5,160.2 L368.0,174.3 L369.5,173.6 L371.0,178.8 L372.5,186.4 L374.0,190.1 L375.6,193.9 L377.1,201.4 L378.6,206.6 L380.1,211.8 L381.6,224.3 L383.1,221.6 L384.6,225.5 L386.1,234.5 L387.7,240.1 L389.2,251.6 L390.7,254.0 L392.2,261.1 L393.7,265.8 L395.2,267.0 L396.7,276.3 L398.2,279.4 L399.7,288.2 L401.3,288.3 L402.8,291.8 L404.3,297.7 L405.8,301.5 L407.3,298.7 L408.8,309.6 L410.3,312.3 L411.8,314.7 L413.4,312.5 L414.9,312.9 L416.4,319.6 L417.9,324.4 L419.4,325.7 L420.9,324.0 L422.4,330.5 L423.9,326.4 L425.4,327.9 L427.0,332.5 L428.5,332.4 L430.0,333.2 L431.5,332.2 L433.0,339.5 L434.5,334.9 L436.0,339.4 L437.5,341.0 L439.1,339.5 L440.6,340.8 L442.1,343.1 L443.6,345.0 L445.1,343.8 L446.6,338.3 L448.1,337.3 L449.6,340.8 L451.1,339.7 L452.7,344.1 L454.2,343.1 L455.7,342.4 L457.2,345.9 L458.7,345.8 L460.2,343.2 L461.7,344.3 L463.2,346.2 L464.8,342.7 L466.3,344.4 L467.8,341.3 L469.3,343.8 L470.8,344.6 L472.3,343.5 L473.8,344.3 L475.3,345.5 L476.8,344.9 L478.4,342.1 L479.9,342.4 L481.4,340.8 L482.9,348.1 L484.4,344.9 L485.9,345.0 L487.4,343.6 L488.9,345.1 L490.5,345.2 L492.0,342.1 L493.5,343.5 L495.0,346.8 L496.5,340.7 L498.0,341.6 L499.5,345.4 L501.0,342.0 L502.5,345.8 L504.1,341.2 L505.6,344.5 L507.1,346.0 L508.6,344.9 L510.1,345.9 L511.6,343.5 L513.1,343.6 L514.6,343.9 L516.2,345.4 L517.7,352.9 L519.2,343.8 L520.7,348.6 L522.2,343.4 L523.7,341.2 L525.2,343.3 L526.7,344.9 L528.2,344.4 L529.8,344.3 L531.3,345.3 L532.8,345.4 L534.3,346.3 L535.8,341.1 L537.3,344.0 L538.8,341.7 L540.3,344.6 L541.9,343.8 L543.4,344.4 L544.9,342.9 L546.4,342.0 L547.9,343.4 L549.4,345.6 L550.9,345.9 L552.4,339.9 L553.9,344.7 L555.5,344.7 L557.0,340.4 L558.5,341.3 L560.0,342.7 L561.5,345.0 L563.0,338.2 L564.5,343.0 L566.0,342.7 L567.6,344.4 L569.1,347.4 L570.6,347.3 L572.1,343.0 L573.6,343.0 L575.1,344.6 L576.6,346.9 L578.1,347.5 L579.6,344.8 L581.2,347.6 L582.7,341.8 L584.2,341.2 L585.7,337.1 L587.2,341.8 L588.7,345.4 L590.2,346.1 L591.7,352.4 L593.3,345.4 L594.8,344.4 L596.3,341.6 L597.8,342.5 L599.3,342.6 L600.8,343.5 L602.3,342.4 L603.8,340.5 L605.3,346.6 L606.9,345.1 L608.4,347.4 L609.9,340.0 L611.4,340.8 L612.9,342.2 L614.4,346.9 L615.9,343.6 L617.4,344.6 L619.0,343.8 L620.5,344.5 L622.0,342.7 L623.5,345.0 L625.0,341.9 L626.5,343.4 L628.0,344.7 L629.5,344.3 L631.0,345.1 L632.6,342.0 L634.1,344.7 L635.6,343.3 L637.1,345.0 L638.6,347.6 L640.1,341.8 L641.6,346.6 L643.1,342.3 L644.7,343.0 L646.2,348.0 L647.7,346.3 L649.2,345.2 L650.7,346.0" stroke="#ffa500"/><path d="M47.5,346.9 L49.0,342.2 L50.5,344.6 L52.0,343.1 L53.5,345.0 L55.1,343.2 L56.6,345.8 L58.1,344.1 L59.6,342.6 L61.1,343.9 L62.6,345.1 L64.1,346.6 L65.6,343.6 L67.2,343.2 L68.7,344.6 L70.2,345.9 L71.7,342.7 L73.2,337.9 L74.7,344.7 L76.2,343.2 L77.7,343.1 L79.2,350.3 L80.8,343.7 L82.3,345.7 L83.8,340.6 L85.3,344.6 L86.8,345.9 L88.3,344.5 L89.8,343.6 L91.3,345.4 L92.9,344.1 L94.4,347.3 L95.9,344.5 L97.4,342.1 L98.9,339.2 L100.4,342.3 L101.9,343.3 L103.4,341.1 L104.9,341.5 L106.5,339.9 L108.0,341.3 L109.5,344.3 L111.0,343.4 L112.5,343.6 L114.0,343.3 L115.5,343.5 L117.0,345.9 L118.6,349.1 L120.1,345.6 L121.6,348.9 L123.1,343.8 L124.6,344.0 L126.1,348.1 L127.6,342.3 L129.1,341.9 L130.6,343.8 L132.2,339.9 L133.7,339.4 L135.2,346.9 L136.7,341.5 L138.2,342.9 L139.7,343.0 L141.2,341.7 L142.7,345.8 L144.3,345.4 L145.8,346.0 L147.3,345.8 L148.8,344.2 L150.3,347.5 L151.8,346.5 L153.3,342.6 L154.8,344.2 L156.3,343.1 L157.9,348.6 L159.4,345.9 L160.9,345.4 L162.4,343.9 L163.9,345.4 L165.4,341.7 L166.9,344.1 L168.4,344.0 L170.0,344.0 L171.5,342.3 L173.0,345.1 L174.5,341.3 L176.0,342.9 L177.5,343.6 L179.0,343.9 L180.5,342.7 L182.0,341.5 L183.6,341.7 L185.1,343.1 L186.6,341.9 L188.1,343.7 L189.6,340.9 L191.1,344.1 L192.6,349.1 L194.1,340.7 L195.7,343.7 L197.2,346.9 L198.7,344.5 L200.2,346.1 L201.7,338.9 L203.2,342.8 L204.7,347.8 L206.2,342.6 L207.7,345.0 L209.3,339.3 L210.8,346.5 L212.3,349.5 L213.8,343.8 L215.3,344.8 L216.8,345.0 L218.3,349.2 L219.8,342.9 L221.4,339.8 L222.9,348.6 L224.4,341.0 L225.9,345.2 L227.4,338.1 L228.9,342.7 L230.4,344.2 L231.9,341.0 L233.4,342.4 L235.0,345.1 L236.5,341.8 L238.0,344.7 L239.5,347.7 L241.0,338.3 L242.5,344.0 L244.0,344.5 L245.5,342.0 L247.1,346.4 L248.6,345.7 L250.1,343.4 L251.6,343.2 L253.1,341.4 L254.6,338.5 L256.1,342.0 L257.6,339.2 L259.1,338.4 L260.7,341.9 L262.2,338.1 L263.7,340.2 L265.2,334.5 L266.7,335.1 L268.2,335.2 L269.7,337.5 L271.2,332.7 L272.8,333.6 L274.3,328.6 L275.8,329.0 L277.3,329.0 L278.8,322.9 L280.3,321.4 L281.8,322.5 L283.3,315.9 L284.8,316.9 L286.4,314.3 L287.9,310.3 L289.4,309.4 L290.9,305.4 L292.4,301.3 L293.9,293.5 L295.4,289.7 L296.9,290.0 L298.5,281.2 L300.0,280.8 L301.5,275.1 L303.0,269.1 L304.5,265.6 L306.0,255.3 L307.5,255.4 L309.0,253.5 L310.5,241.9 L312.1,240.6 L313.6,234.6 L315.1,235.5 L316.6,220.0 L318.1,214.7 L319.6,209.1 L321.1,203.0 L322.6,195.7 L324.2,194.4 L325.7,186.7 L327.2,185.6 L328.7,179.6 L330.2,171.4 L331.7,168.5 L333.2,168.4 L334.7,160.3 L336.2,158.0 L337.8,156.3 L339.3,150.3 L340.8,149.8 L342.3,150.5 L343.8,147.6 L345.3,139.2 L346.8,146.4 L348.3,141.7 L349.9,140.8 L351.4,141.1 L352.9,146.6 L354.4,145.7 L355.9,146.3 L357.4,146.8 L358.9,152.9 L360.4,157.1 L362.0,155.1 L363.5,158.5 L365.0,164.3 L366.5,170.9 L368.0,173.0 L369.5,178.5 L371.0,181.7 L372.5,192.0 L374.0,194.0 L375.6,200.2 L377.1,208.1 L378.6,210.5 L380.1,216.7 L381.6,223.5 L383.1,227.2 L384.6,237.4 L386.1,239.7 L387.7,244.1 L389.2,249.9 L390.7,253.4 L392.2,264.2 L393.7,270.0 L395.2,270.7 L396.7,274.9 L398.2,275.5 L399.7,283.6 L401.3,291.5 L402.8,291.4 L404.3,299.3 L405.8,304.5 L407.3,297.9 L408.8,306.8 L410.3,308.9 L411.8,312.1 L413.4,311.8 L414.9,318.0 L416.4,318.0 L417.9,325.7 L419.4,328.6 L420.9,323.5 L422.4,325.1 L423.9,329.0 L425.4,331.1 L427.0,332.6 L428.5,335.9 L430.0,331.5 L431.5,334.6 L433.0,335.9 L434.5,337.0 L436.0,336.1 L437.5,338.0 L439.1,338.0 L440.6,343.2 L442.1,339.6 L443.6,335.9 L445.1,342.8 L446.6,342.2 L448.1,340.0 L449.6,340.1 L451.1,341.1 L452.7,346.8 L454.2,341.8 L455.7,346.0 L457.2,345.3 L458.7,342.0 L460.2,344.2 L461.7,341.6 L463.2,335.9 L464.8,341.8 L466.3,342.0 L467.8,345.9 L469.3,345.4 L470.8,346.4 L472.3,345.2 L473.8,346.5 L475.3,345.5 L476.8,344.4 L478.4,346.4 L479.9,347.4 L481.4,347.3 L482.9,342.8 L484.4,343.8 L485.9,341.5 L487.4,341.4 L488.9,344.8 L490.5,342.3 L492.0,347.5 L493.5,338.4 L495.0,341.1 L496.5,344.5 L498.0,346.8 L499.5,343.1 L501.0,348.6 L502.5,345.9 L504.1,342.2 L505.6,343.8 L507.1,345.2 L508.6,341.7 L510.1,346.5 L511.6,343.3 L513.1,345.2 L514.6,346.1 L516.2,342.9 L517.7,346.4 L519.2,339.3 L520.7,345.4 L522.2,339.1 L523.7,346.7 L525.2,342.5 L526.7,346.9 L528.2,347.3 L529.8,343.6 L531.3,342.3 L532.8,347.1 L534.3,341.1 L535.8,345.9 L537.3,343.7 L538.8,343.1 L540.3,342.5 L541.9,348.4 L543.4,340.0 L544.9,342.6 L546.4,345.0 L547.9,346.5 L549.4,348.1 L550.9,347.3 L552.4,342.7 L553.9,344.8 L555.5,346.8 L557.0,345.3 L558.5,340.2 L560.0,344.8 L561.5,345.4 L563.0,340.7 L564.5,342.9 L566.0,343.9 L567.6,345.5 L569.1,347.8 L570.6,346.9 L572.1,345.2 L573.6,344.5 L575.1,343.1 L576.6,342.6 L578.1,343.4 L579.6,343.5 L581.2,346.5 L582.7,349.3 L584.2,345.3 L585.7,346.3 L587.2,345.6 L588.7,344.7 L590.2,347.0 L591.7,346.7 L593.3,344.2 L594.8,343.7 L596.3,345.6 L597.8,342.8 L599.3,344.5 L600.8,346.5 L602.3,343.9 L603.8,339.4 L605.3,345.6 L606.9,341.1 L608.4,340.6 L609.9,340.3 L611.4,346.0 L612.9,339.1 L614.4,343.7 L615.9,344.6 L617.4,344.6 L619.0,342.5 L620.5,343.9 L622.0,344.4 L623.5,340.9 L625.0,345.8 L626.5,346.5 L628.0,342.1 L629.5,342.3 L631.0,341.3 L632.6,346.6 L634.1,341.4 L635.6,342.8 L637.1,339.7 L638.6,347.0 L640.1,343.5 L641.6,344.7 L643.1,347.9 L644.7,345.7 L646.2,341.2 L647.7,345.1 L649.2,345.8 L650.7,341.9" stroke="#00ffff"/></g>
<g stroke="#262626" stroke-width="1"><line x1="47.50" y1="343.99" x2="51.00" y2="343.99"/><line x1="47.50" y1="299.58" x2="51.00" y2="299.58"/><line x1="47.50" y1="255.17" x2="51.00" y2="255.17"/><line x1="47.50" y1="210.75" x2="51.00" y2="210.75"/><line x1="47.50" y1="166.34" x2="51.00" y2="166.34"/><line x1="47.50" y1="121.93" x2="51.00" y2="121.93"/><line x1="47.50" y1="77.51" x2="51.00" y2="77.51"/><line x1="47.50" y1="33.10" x2="51.00" y2="33.10"/><line x1="47.50" y1="366.50" x2="47.50" y2="362.90"/><line x1="122.90" y1="366.50" x2="122.90" y2="362.90"/><line x1="198.30" y1="366.50" x2="198.30" y2="362.90"/><line x1="273.70" y1="366.50" x2="273.70" y2="362.90"/><line x1="349.10" y1="366.50" x2="349.10" y2="362.90"/><line x1="424.50" y1="366.50" x2="424.50" y2="362.90"/><line x1="499.90" y1="366.50" x2="499.90" y2="362.90"/><line x1="575.30" y1="366.50" x2="575.30" y2="362.90"/><line x1="650.70" y1="366.50" x2="650.70" y2="362.90"/>
<line x1="47.50" y1="33.10" x2="47.50" y2="367.00"/>
<line x1="47.00" y1="366.5" x2="650.70" y2="366.5"/></g>
<g font-family="Liberation Sans, sans-serif" fill="#333"><text x="44.60" y="348.24" text-anchor="end" font-size="11.8" textLength="7.00" lengthAdjust="spacingAndGlyphs">0</text><text x="44.60" y="303.83" text-anchor="end" font-size="11.8" textLength="13.99" lengthAdjust="spacingAndGlyphs">10</text><text x="44.60" y="259.42" text-anchor="end" font-size="11.8" textLength="13.99" lengthAdjust="spacingAndGlyphs">20</text><text x="44.60" y="215.00" text-anchor="end" font-size="11.8" textLength="13.99" lengthAdjust="spacingAndGlyphs">30</text><text x="44.60" y="170.59" text-anchor="end" font-size="11.8" textLength="13.99" lengthAdjust="spacingAndGlyphs">40</text><text x="44.60" y="126.18" text-anchor="end" font-size="11.8" textLength="13.99" lengthAdjust="spacingAndGlyphs">50</text><text x="44.60" y="81.76" text-anchor="end" font-size="11.8" textLength="13.99" lengthAdjust="spacingAndGlyphs">60</text><text x="44.60" y="37.35" text-anchor="end" font-size="11.8" textLength="13.99" lengthAdjust="spacingAndGlyphs">70</text><text x="47.50" y="378.45" text-anchor="middle" font-size="11.8" textLength="30.21" lengthAdjust="spacingAndGlyphs">−100</text><text x="122.90" y="378.45" text-anchor="middle" font-size="11.8" textLength="23.21" lengthAdjust="spacingAndGlyphs">−75</text><text x="198.30" y="378.45" text-anchor="middle" font-size="11.8" textLength="23.21" lengthAdjust="spacingAndGlyphs">−50</text><text x="273.70" y="378.45" text-anchor="middle" font-size="11.8" textLength="23.21" lengthAdjust="spacingAndGlyphs">−25</text><text x="349.10" y="378.45" text-anchor="middle" font-size="11.8" textLength="7.00" lengthAdjust="spacingAndGlyphs">0</text><text x="424.50" y="378.45" text-anchor="middle" font-size="11.8" textLength="13.99" lengthAdjust="spacingAndGlyphs">25</text><text x="499.90" y="378.45" text-anchor="middle" font-size="11.8" textLength="13.99" lengthAdjust="spacingAndGlyphs">50</text><text x="575.30" y="378.45" text-anchor="middle" font-size="11.8" textLength="13.99" lengthAdjust="spacingAndGlyphs">75</text><text x="650.70" y="378.45" text-anchor="middle" font-size="11.8" textLength="20.99" lengthAdjust="spacingAndGlyphs">100</text><text x="349.1" y="392.8" text-anchor="middle" font-size="11.2" textLength="99.9" lengthAdjust="spacingAndGlyphs">Crank Angle (°CA)</text><text transform="translate(24.1,200.0) rotate(-90)" text-anchor="middle" font-size="11.2" textLength="142.4" lengthAdjust="spacingAndGlyphs">Heat Release Rate (J/°CA)</text></g>
<g font-family="Liberation Sans, sans-serif" fill="#333"><rect x="540.7" y="38.3" width="105.60" height="99.60" rx="2.6" fill="#fff" fill-opacity="0.8" stroke="#d6d6d6" stroke-width="1"/><line x1="543.6" y1="45.40" x2="563.2" y2="45.40" stroke="#000000" stroke-width="1.8"/><text x="570.0" y="48.70" font-size="10.0" textLength="28.30" lengthAdjust="spacingAndGlyphs">Diesel</text><line x1="543.6" y1="59.33" x2="563.2" y2="59.33" stroke="#ff0000" stroke-width="1.8"/><text x="570.0" y="62.63" font-size="10.0" textLength="73.00" lengthAdjust="spacingAndGlyphs">SOMED40/Al<tspan font-size="6.60">2</tspan>O<tspan font-size="6.60">3</tspan></text><line x1="543.6" y1="73.26" x2="563.2" y2="73.26" stroke="#0000ff" stroke-width="1.8"/><text x="570.0" y="76.56" font-size="10.0" textLength="45.60" lengthAdjust="spacingAndGlyphs">SOMED40</text><line x1="543.6" y1="87.19" x2="563.2" y2="87.19" stroke="#008000" stroke-width="1.8"/><text x="570.0" y="90.49" font-size="10.0" textLength="45.60" lengthAdjust="spacingAndGlyphs">SOMED20</text><line x1="543.6" y1="101.12" x2="563.2" y2="101.12" stroke="#ff00ff" stroke-width="1.8"/><text x="570.0" y="104.42" font-size="10.0" textLength="45.60" lengthAdjust="spacingAndGlyphs">SOMED60</text><line x1="543.6" y1="115.05" x2="563.2" y2="115.05" stroke="#ffa500" stroke-width="1.8"/><text x="570.0" y="118.35" font-size="10.0" textLength="45.60" lengthAdjust="spacingAndGlyphs">SOMED80</text><line x1="543.6" y1="128.98" x2="563.2" y2="128.98" stroke="#00ffff" stroke-width="1.8"/><text x="570.0" y="132.28" font-size="10.0" textLength="51.50" lengthAdjust="spacingAndGlyphs">SOMED100</text></g>
</svg>
</div></body></html>
